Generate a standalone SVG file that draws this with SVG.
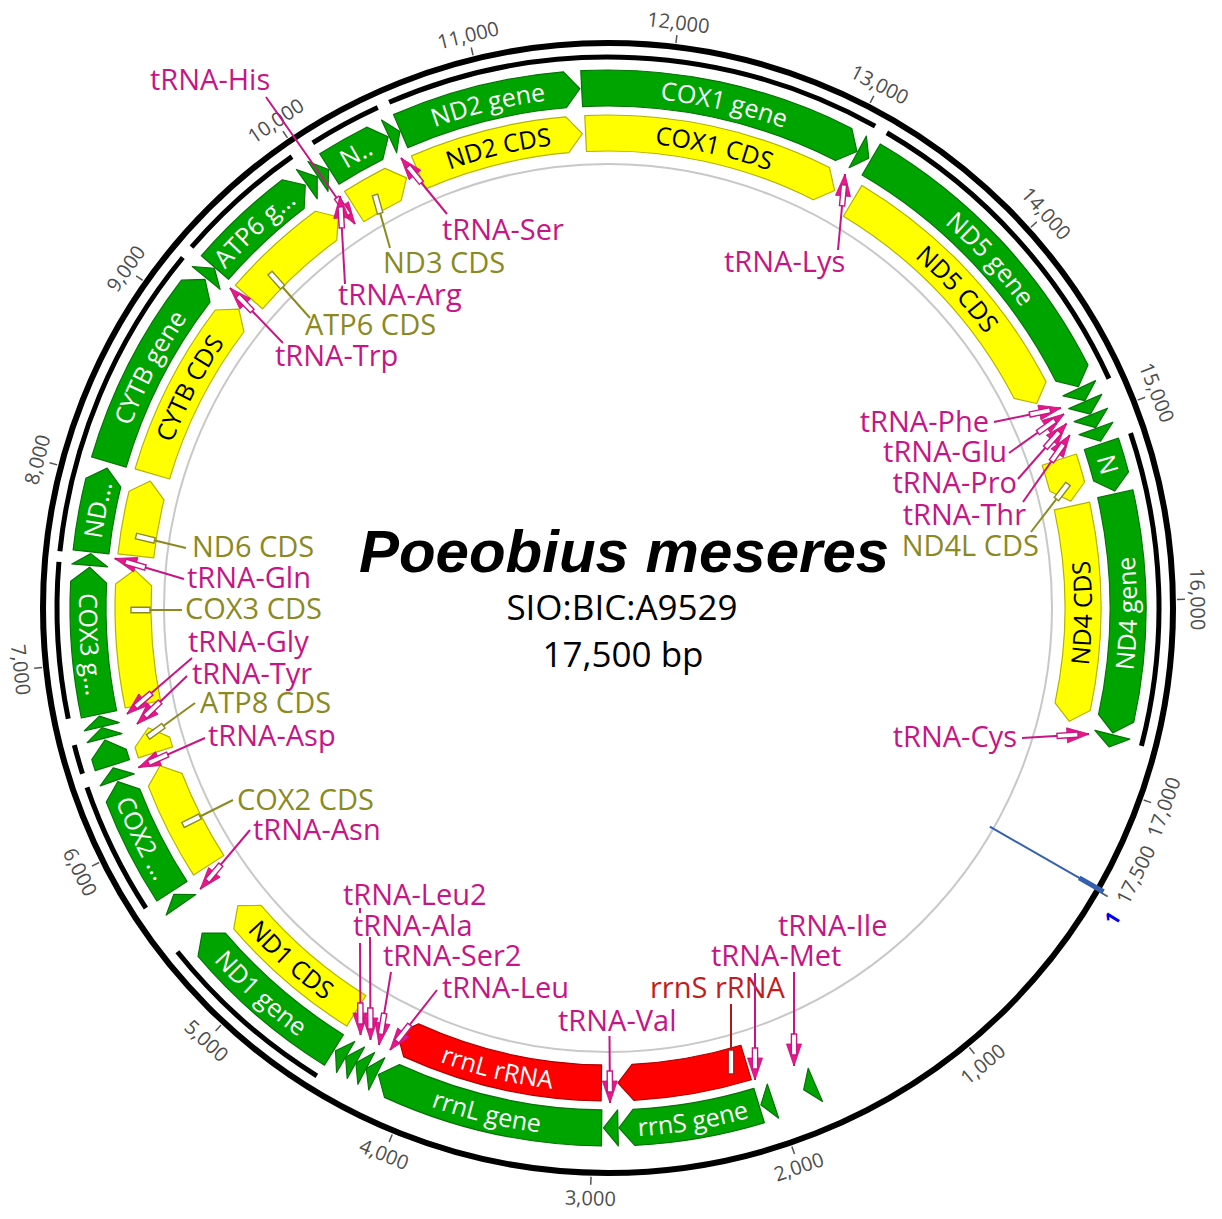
<svg xmlns="http://www.w3.org/2000/svg" width="1222" height="1219" viewBox="0 0 1222 1219">
<style>
text{font-family:"Open Sans","DejaVu Sans",sans-serif}
.gr{fill:#00A400;stroke:#067306;stroke-width:1.2;stroke-linejoin:round}
.ye{fill:#FFFF00;stroke:#B3B300;stroke-width:1.2;stroke-linejoin:round}
.rd{fill:#FF0000;stroke:#B30000;stroke-width:1.2;stroke-linejoin:round}
.blk{fill:none;stroke:#000;stroke-width:5}
.fw{font-size:25px;fill:#fff;text-anchor:middle}
.fb{font-size:25px;fill:#000;text-anchor:middle}
.lm{font-size:29px;fill:#C71585}
.lo{font-size:29px;fill:#8A8A1F}
.lr{font-size:29px;fill:#C41C1C}
.e{text-anchor:end}
.tk{font-size:20px;fill:#4d4d4d;text-anchor:middle;dominant-baseline:central}
.cm{fill:none;stroke:#C71585;stroke-width:2;marker-end:url(#em)}
.co{fill:none;stroke:#8A8A1F;stroke-width:2;marker-end:url(#eo)}
.cr{fill:none;stroke:#B01818;stroke-width:2;marker-end:url(#er)}
.ti{font-family:"Liberation Sans",Arial,sans-serif;font-weight:bold;font-style:italic;font-size:60px;text-anchor:middle;fill:#000}
.sb{font-size:35px;text-anchor:middle;fill:#000}
</style>
<defs>
<path id="gcw" d="M-215.96 -463.12A511 511 0 0 1 215.96 -463.12"/>
<path id="gccw" d="M-223.56 479.44A529 529 0 0 0 223.56 479.44"/>
<path id="icw" d="M-196.94 -422.34A466 466 0 0 1 196.94 -422.34"/>
<path id="iccw" d="M-204.55 438.65A484 484 0 0 0 204.55 438.65"/>
<path id="tg12" d="M0 -538L10.89 -519.89L0 -502Z"/>
<path id="tg13" d="M0 -538L11.80 -519.87L0 -502Z"/>
<path id="tg14" d="M0 -538L12.70 -519.84L0 -502Z"/>
<path id="tg15" d="M0 -538L13.61 -519.82L0 -502Z"/>
<path id="tg16" d="M0 -538L14.52 -519.80L0 -502Z"/>
<path id="tick" d="M0 -569V-577" stroke="#555" stroke-width="1.5"/>
<marker id="em" markerUnits="userSpaceOnUse" orient="auto" markerWidth="80" markerHeight="40" viewBox="-40 -20 80 40" refX="0" refY="0"><path d="M-22 -7.5L0 0L-22 7.5Z" fill="#EC168B" stroke="#C0127A" stroke-width="0.8" stroke-linejoin="round"/><rect x="-32" y="-2.6" width="21" height="5.2" fill="#fff" stroke="#C71585" stroke-width="1.4"/></marker>
<marker id="eo" markerUnits="userSpaceOnUse" orient="auto" markerWidth="80" markerHeight="40" viewBox="-40 -20 80 40" refX="0" refY="0"><rect x="-19" y="-2.8" width="19" height="5.6" fill="#fff" stroke="#8A8A1F" stroke-width="1.4"/></marker>
<marker id="er" markerUnits="userSpaceOnUse" orient="auto" markerWidth="80" markerHeight="40" viewBox="-40 -20 80 40" refX="0" refY="0"><rect x="-24" y="-2.8" width="24" height="5.6" fill="#fff" stroke="#B01818" stroke-width="1.4"/></marker>
</defs>
<rect width="1222" height="1219" fill="#fff"/>
<g id="backbone">
<circle cx="608" cy="608" r="565" fill="none" stroke="#000" stroke-width="6"/>
<circle cx="608" cy="608" r="444" fill="none" stroke="#C8C8C8" stroke-width="2"/>
</g>
<g id="spans" class="blk">
<path transform="translate(608 608) rotate(336.6)" d="M0 -551A551 551 0 0 1 436.55 -336.19"/>
<path transform="translate(608 608) rotate(30.4)" d="M0 -551A551 551 0 0 1 316.04 -451.35"/>
<path transform="translate(608 608) rotate(71.5)" d="M0 -551A551 551 0 0 1 300.10 -462.11"/>
<path transform="translate(608 608) rotate(211.9)" d="M0 -551A551 551 0 0 1 183.93 -519.40"/>
<path transform="translate(608 608) rotate(237.0)" d="M0 -551A551 551 0 0 1 133.30 -534.63"/>
<path transform="translate(608 608) rotate(252.5)" d="M0 -551A551 551 0 0 1 29.80 -550.19"/>
<path transform="translate(608 608) rotate(258.4)" d="M0 -551A551 551 0 0 1 155.57 -528.58"/>
<path transform="translate(608 608) rotate(275.9)" d="M0 -551A551 551 0 0 1 304.92 -458.94"/>
<path transform="translate(608 608) rotate(310.9)" d="M0 -551A551 551 0 0 1 134.23 -534.40"/>
<path transform="translate(608 608) rotate(327.6)" d="M0 -551A551 551 0 0 1 73.83 -546.03"/>
</g>
<g id="scale">
<g transform="translate(608 608)">
<use href="#tick" transform="rotate(140.571)"/><use href="#tick" transform="rotate(161.143)"/><use href="#tick" transform="rotate(181.714)"/><use href="#tick" transform="rotate(202.286)"/><use href="#tick" transform="rotate(222.857)"/><use href="#tick" transform="rotate(243.429)"/><use href="#tick" transform="rotate(264)"/><use href="#tick" transform="rotate(284.571)"/><use href="#tick" transform="rotate(305.143)"/><use href="#tick" transform="rotate(325.714)"/><use href="#tick" transform="rotate(346.286)"/><use href="#tick" transform="rotate(6.857)"/><use href="#tick" transform="rotate(27.429)"/><use href="#tick" transform="rotate(48)"/><use href="#tick" transform="rotate(68.571)"/><use href="#tick" transform="rotate(89.143)"/><use href="#tick" transform="rotate(109.714)"/><use href="#tick" transform="rotate(120)"/>
<text class="tk" transform="rotate(140.571) translate(0 -590) rotate(180)">1,000</text>
<text class="tk" transform="rotate(161.143) translate(0 -590) rotate(180)">2,000</text>
<text class="tk" transform="rotate(181.714) translate(0 -590) rotate(180)">3,000</text>
<text class="tk" transform="rotate(202.286) translate(0 -590) rotate(180)">4,000</text>
<text class="tk" transform="rotate(222.857) translate(0 -590) rotate(180)">5,000</text>
<text class="tk" transform="rotate(243.429) translate(0 -590) rotate(180)">6,000</text>
<text class="tk" transform="rotate(264) translate(0 -590) rotate(180)">7,000</text>
<text class="tk" transform="rotate(284.571) translate(0 -590)">8,000</text>
<text class="tk" transform="rotate(305.143) translate(0 -590)">9,000</text>
<text class="tk" transform="rotate(325.714) translate(0 -590)">10,000</text>
<text class="tk" transform="rotate(346.286) translate(0 -590)">11,000</text>
<text class="tk" transform="rotate(6.857) translate(0 -590)">12,000</text>
<text class="tk" transform="rotate(27.429) translate(0 -590)">13,000</text>
<text class="tk" transform="rotate(48) translate(0 -590)">14,000</text>
<text class="tk" transform="rotate(68.571) translate(0 -590)">15,000</text>
<text class="tk" transform="rotate(89.143) translate(0 -590)">16,000</text>
<text class="tk" transform="rotate(109.714) translate(0 -590) rotate(180)">17,000</text>
<text class="tk" transform="rotate(116.8) translate(0 -591) rotate(180)">17,500</text>
</g>
</g>
<g id="origin" transform="translate(608 608)">
<g transform="rotate(119.8)"><path d="M0 -440V-546" stroke="#3461AE" stroke-width="2" fill="none"/><path d="M0 -543V-571" stroke="#3461AE" stroke-width="5"/></g>
<text class="tk" style="fill:#0000EE;font-weight:bold;font-size:20px" transform="rotate(121.6) translate(0 -592) rotate(180)">1</text>
</g>
<g id="cox1">
<g transform="translate(608 608) rotate(357.1)"><path class="gr" d="M0 -538A538 538 0 0 1 267.76 -466.64L271.70 -443.37L249.84 -435.42A502 502 0 0 0 0 -502Z"/></g>
<g transform="translate(608 608) rotate(357.3)"><path class="ye" d="M0 -493A493 493 0 0 1 241.95 -429.55L246.06 -406.30L224.28 -398.18A457 457 0 0 0 0 -457Z"/></g>
<g transform="translate(608 608) rotate(13)"><text class="fw"><textPath href="#gcw" startOffset="50%">COX1 gene</textPath></text><text class="fb"><textPath href="#icw" startOffset="50%">COX1 CDS</textPath></text></g>
</g>
<g id="nd5">
<g transform="translate(608 608) rotate(30.4)"><path class="gr" d="M0 -538A538 538 0 0 1 291.02 -452.49L293.78 -429.06L271.55 -422.22A502 502 0 0 0 0 -502Z"/></g>
<g transform="translate(608 608) rotate(31)"><path class="ye" d="M0 -493A493 493 0 0 1 258.99 -419.49L262.17 -396.10L240.08 -388.86A457 457 0 0 0 0 -457Z"/></g>
<g transform="translate(608 608) rotate(47.6)"><text class="fw"><textPath href="#gcw" startOffset="50%">ND5 gene</textPath></text><text class="fb"><textPath href="#icw" startOffset="50%">ND5 CDS</textPath></text></g>
</g>
<g id="nd4l">
<g transform="translate(608 608) rotate(71.6)"><path class="gr" d="M0 -538A538 538 0 0 1 35.16 -536.85L48.94 -517.69L32.81 -500.93A502 502 0 0 0 0 -502Z"/></g>
<g transform="translate(608 608) rotate(71.8)"><path class="ye" d="M0 -493A493 493 0 0 1 29.16 -492.14L43.05 -473.04L27.03 -456.20A457 457 0 0 0 0 -457Z"/></g>
<g transform="translate(608 608) rotate(74)"><text class="fw"><textPath href="#gcw" startOffset="50%">N</textPath></text></g>
<text class="lo e" x="1039" y="556">ND4L CDS</text>
</g>
<g id="nd4">
<g transform="translate(608 608) rotate(77.3)"><path class="gr" d="M0 -538A538 538 0 0 1 226.92 -487.80L232.83 -464.96L211.73 -455.16A502 502 0 0 0 0 -502Z"/></g>
<g transform="translate(608 608) rotate(77.6)"><path class="ye" d="M0 -493A493 493 0 0 1 203.59 -449.00L209.72 -426.20L188.72 -416.21A457 457 0 0 0 0 -457Z"/></g>
<g transform="translate(608 608) rotate(-89.4)"><text class="fw"><textPath href="#gccw" startOffset="50%">ND4 gene</textPath></text><text class="fb"><textPath href="#iccw" startOffset="50%">ND4 CDS</textPath></text></g>
</g>
<g id="rrns">
<g transform="translate(608 608) rotate(163.1)"><path class="gr" d="M0 -538A538 538 0 0 1 130.58 -521.91L140.71 -500.60L121.84 -486.99A502 502 0 0 0 0 -502Z"/><path class="rd" d="M0 -493A493 493 0 0 1 118.36 -478.58L128.54 -457.28L109.71 -443.63A457 457 0 0 0 0 -457Z"/></g>
<g transform="translate(608 608) rotate(-9.4)"><text class="fw"><textPath href="#gccw" startOffset="50%">rrnS gene</textPath></text></g>
<text class="lr" x="650" y="998">rrnS rRNA</text>
</g>
<g id="rrnl">
<g transform="translate(608 608) rotate(180.7)"><path class="gr" d="M0 -538A538 538 0 0 1 217.51 -492.07L223.87 -469.34L202.96 -459.14A502 502 0 0 0 0 -502Z"/></g>
<g transform="translate(608 608) rotate(180.8)"><path class="rd" d="M0 -493A493 493 0 0 1 198.09 -451.45L204.49 -428.73L183.62 -418.49A457 457 0 0 0 0 -457Z"/></g>
<g transform="translate(608 608) rotate(13.5)"><text class="fw"><textPath href="#gccw" startOffset="50%">rrnL gene</textPath></text><text class="fw"><textPath href="#iccw" startOffset="50%">rrnL rRNA</textPath></text></g>
</g>
<g id="nd1">
<g transform="translate(608 608) rotate(211.8)"><path class="gr" d="M0 -538A538 538 0 0 1 164.88 -512.11L173.58 -490.17L153.85 -477.84A502 502 0 0 0 0 -502Z"/></g>
<g transform="translate(608 608) rotate(212)"><path class="ye" d="M0 -493A493 493 0 0 1 147.35 -470.46L156.21 -448.58L136.59 -436.11A457 457 0 0 0 0 -457Z"/></g>
<g transform="translate(608 608) rotate(42)"><text class="fw"><textPath href="#gccw" startOffset="50%">ND1 gene</textPath></text><text class="fb"><textPath href="#iccw" startOffset="50%">ND1 CDS</textPath></text></g>
</g>
<g id="cox2">
<g transform="translate(608 608) rotate(237)"><path class="gr" d="M0 -538A538 538 0 0 1 110.45 -526.54L121.39 -505.63L103.06 -491.31A502 502 0 0 0 0 -502Z"/></g>
<g transform="translate(608 608) rotate(237.2)"><path class="ye" d="M0 -493A493 493 0 0 1 99.06 -482.95L110.08 -462.07L91.82 -447.68A457 457 0 0 0 0 -457Z"/></g>
<g transform="translate(608 608) rotate(63.7)"><text class="fw"><textPath href="#gccw" startOffset="50%">COX2 ...</textPath></text></g>
<text class="lo" x="237" y="810">COX2 CDS</text>
</g>
<g id="atp8">
<g transform="translate(608 608) rotate(252.4)"><path class="gr" d="M0 -538A538 538 0 0 1 11.71 -537.87L26.31 -519.33L10.93 -501.88A502 502 0 0 0 0 -502Z"/></g>
<g transform="translate(608 608) rotate(252.3)"><path class="ye" d="M0 -493A493 493 0 0 1 11.11 -492.87L25.69 -474.31L10.30 -456.88A457 457 0 0 0 0 -457Z"/></g>
<text class="lo" x="200" y="713">ATP8 CDS</text>
</g>
<g id="cox3">
<g transform="translate(608 608) rotate(258.2)"><path class="gr" d="M0 -538A538 538 0 0 1 136.04 -520.52L145.95 -499.10L126.94 -485.69A502 502 0 0 0 0 -502Z"/></g>
<g transform="translate(608 608) rotate(258.3)"><path class="ye" d="M0 -493A493 493 0 0 1 123.36 -477.32L133.32 -455.91L114.35 -442.46A457 457 0 0 0 0 -457Z"/></g>
<g transform="translate(608 608) rotate(86)"><text class="fw"><textPath href="#gccw" startOffset="50%">COX3 g...</textPath></text></g>
<text class="lo" x="185" y="619">COX3 CDS</text>
</g>
<g id="nd6">
<g transform="translate(608 608) rotate(276.2)"><path class="gr" d="M0 -538A538 538 0 0 1 72.52 -533.09L84.93 -513.02L67.67 -497.42A502 502 0 0 0 0 -502Z"/></g>
<g transform="translate(608 608) rotate(276.3)"><path class="ye" d="M0 -493A493 493 0 0 1 63.42 -488.90L75.94 -468.89L58.79 -453.20A457 457 0 0 0 0 -457Z"/></g>
<g transform="translate(608 608) rotate(280.9)"><text class="fw"><textPath href="#gcw" startOffset="50%">ND...</textPath></text></g>
<text class="lo" x="192" y="557">ND6 CDS</text>
</g>
<g id="cytb">
<g transform="translate(608 608) rotate(286.3)"><path class="gr" d="M0 -538A538 538 0 0 1 194.97 -501.43L202.34 -479.02L181.92 -467.88A502 502 0 0 0 0 -502Z"/></g>
<g transform="translate(608 608) rotate(286.4)"><path class="ye" d="M0 -493A493 493 0 0 1 175.00 -460.90L182.54 -438.52L162.22 -427.24A457 457 0 0 0 0 -457Z"/></g>
<g transform="translate(608 608) rotate(297.7)"><text class="fw"><textPath href="#gcw" startOffset="50%">CYTB gene</textPath></text><text class="fb"><textPath href="#icw" startOffset="50%">CYTB CDS</textPath></text></g>
</g>
<g id="atp6">
<g transform="translate(608 608) rotate(310.9)"><path class="gr" d="M0 -538A538 538 0 0 1 110.45 -526.54L121.39 -505.63L103.06 -491.31A502 502 0 0 0 0 -502Z"/><path class="ye" d="M0 -493A493 493 0 0 1 108.31 -480.96L118.93 -459.87L100.40 -445.84A457 457 0 0 0 0 -457Z"/></g>
<g transform="translate(608 608) rotate(317)"><text class="fw"><textPath href="#gcw" startOffset="50%">ATP6 g...</textPath></text></g>
<text class="lo" x="305" y="335">ATP6 CDS</text>
</g>
<g id="nd3">
<g transform="translate(608 608) rotate(327.6)"><path class="gr" d="M0 -538A538 538 0 0 1 53.87 -535.30L66.97 -515.67L50.27 -499.48A502 502 0 0 0 0 -502Z"/></g>
<g transform="translate(608 608) rotate(327.7)"><path class="ye" d="M0 -493A493 493 0 0 1 46.32 -490.82L59.53 -471.25L42.94 -454.98A457 457 0 0 0 0 -457Z"/></g>
<g transform="translate(608 608) rotate(331)"><text class="fw"><textPath href="#gcw" startOffset="50%">N..</textPath></text></g>
<text class="lo" x="383" y="273">ND3 CDS</text>
</g>
<g id="nd2">
<g transform="translate(608 608) rotate(336.5)"><path class="gr" d="M0 -538A538 538 0 0 1 172.91 -509.46L181.26 -487.39L161.34 -475.37A502 502 0 0 0 0 -502Z"/><path class="ye" d="M0 -493A493 493 0 0 1 157.17 -467.27L165.57 -445.21L145.70 -433.15A457 457 0 0 0 0 -457Z"/></g>
<g transform="translate(608 608) rotate(346.6)"><text class="fw"><textPath href="#gcw" startOffset="50%">ND2 gene</textPath></text><text class="fb"><textPath href="#icw" startOffset="50%">ND2 CDS</textPath></text></g>
</g>
<g id="trna-ile"><use href="#tg14" class="gr" transform="translate(608 608) rotate(156.5)"/><text class="lm" x="778" y="936">tRNA-Ile</text></g>
<g id="trna-met"><use href="#tg14" class="gr" transform="translate(608 608) rotate(161.5)"/><text class="lm" x="711" y="966">tRNA-Met</text></g>
<g id="trna-val"><use href="#tg16" class="gr" transform="translate(608 608) rotate(178.9)"/><text class="lm" x="558" y="1031">tRNA-Val</text></g>
<g id="trna-leu"><use href="#tg13" class="gr" transform="translate(608 608) rotate(206.4)"/><text class="lm" x="442" y="998">tRNA-Leu</text></g>
<g id="trna-ser2"><use href="#tg13" class="gr" transform="translate(608 608) rotate(207.7)"/><text class="lm" x="383" y="966">tRNA-Ser2</text></g>
<g id="trna-ala"><use href="#tg13" class="gr" transform="translate(608 608) rotate(209)"/><text class="lm" x="353" y="936">tRNA-Ala</text></g>
<g id="trna-leu2"><use href="#tg13" class="gr" transform="translate(608 608) rotate(210.3)"/><text class="lm" x="343" y="905">tRNA-Leu2</text></g>
<g id="trna-asn"><use href="#tg14" class="gr" transform="translate(608 608) rotate(235.2)"/><text class="lm" x="253" y="840">tRNA-Asn</text></g>
<g id="trna-asp"><use href="#tg14" class="gr" transform="translate(608 608) rotate(250.7)"/><text class="lm" x="208" y="746">tRNA-Asp</text></g>
<g id="trna-tyr"><use href="#tg12" class="gr" transform="translate(608 608) rotate(255.5)"/><text class="lm" x="192" y="684">tRNA-Tyr</text></g>
<g id="trna-gly"><use href="#tg12" class="gr" transform="translate(608 608) rotate(256.8)"/><text class="lm" x="188" y="652">tRNA-Gly</text></g>
<g id="trna-gln"><use href="#tg13" class="gr" transform="translate(608 608) rotate(274.7)"/><text class="lm" x="187" y="588">tRNA-Gln</text></g>
<g id="trna-trp"><use href="#tg14" class="gr" transform="translate(608 608) rotate(309.4)"/><text class="lm" x="275" y="366">tRNA-Trp</text></g>
<g id="trna-arg"><use href="#tg14" class="gr" transform="translate(608 608) rotate(324.6)"/><text class="lm" x="338" y="305">tRNA-Arg</text></g>
<g id="trna-his"><use href="#tg14" class="gr" transform="translate(608 608) rotate(326.1)"/><text class="lm" x="150" y="90">tRNA-His</text></g>
<g id="trna-ser"><use href="#tg13" class="gr" transform="translate(608 608) rotate(335.1)"/><text class="lm" x="442" y="240">tRNA-Ser</text></g>
<g id="trna-lys"><use href="#tg14" class="gr" transform="translate(608 608) rotate(28.7)"/><text class="lm" x="724" y="272">tRNA-Lys</text></g>
<g id="trna-phe"><use href="#tg15" class="gr" transform="translate(608 608) rotate(65)"/><text class="lm e" x="989" y="432">tRNA-Phe</text></g>
<g id="trna-glu"><use href="#tg15" class="gr" transform="translate(608 608) rotate(66.6)"/><text class="lm e" x="1007" y="462">tRNA-Glu</text></g>
<g id="trna-pro"><use href="#tg15" class="gr" transform="translate(608 608) rotate(68.2)"/><text class="lm e" x="1017" y="493">tRNA-Pro</text></g>
<g id="trna-thr"><use href="#tg15" class="gr" transform="translate(608 608) rotate(69.8)"/><text class="lm e" x="1026" y="525">tRNA-Thr</text></g>
<g id="trna-cys"><use href="#tg14" class="gr" transform="translate(608 608) rotate(104.1)"/><text class="lm e" x="1017" y="747">tRNA-Cys</text></g>
<g id="connectors">
<path class="cm" d="M266 97L355 224"/>
<path class="cm" d="M345 284L340 196"/>
<path class="cm" d="M447 214L401 158"/>
<path class="cm" d="M283 343L230 288"/>
<path class="cm" d="M838 250L845 174"/>
<path class="cm" d="M994 422L1061 408"/>
<path class="cm" d="M1009 453L1064 414"/>
<path class="cm" d="M1018 479L1066.5 423.6"/>
<path class="cm" d="M1023 502L1069.8 435.1"/>
<path class="cm" d="M1022 738L1089 734"/>
<path class="cm" d="M184 579L114.7 558.5"/>
<path class="cm" d="M192 658L127 714"/>
<path class="cm" d="M187 676L137 724"/>
<path class="cm" d="M205 738L138.4 767.5"/>
<path class="cm" d="M250 830L200.2 889.2"/>
<path class="cm" d="M360 908V913M360 943L360.5 1035"/>
<path class="cm" d="M370 937L370.5 1040"/>
<path class="cm" d="M391 972L379 1045"/>
<path class="cm" d="M437 990L390 1050"/>
<path class="cm" d="M609.5 1036L610 1103"/>
<path class="cm" d="M755 973L755 1080"/>
<path class="cm" d="M794 972L794 1066"/>
<path class="co" d="M390 248L375 195"/>
<path class="co" d="M310 318L270 273"/>
<path class="co" d="M1031 532L1068 484"/>
<path class="co" d="M186 548L136 536"/>
<path class="co" d="M182 610L131 610"/>
<path class="co" d="M195 703L148 737"/>
<path class="co" d="M233 800L183 825"/>
<path class="cr" d="M731 1004L731 1074"/>
</g>
<g id="title">
<text class="ti" x="624" y="572">Poeobius meseres</text>
<text class="sb" x="622" y="620">SIO:BIC:A9529</text>
<text class="sb" x="623" y="667">17,500 bp</text>
</g>
</svg>
